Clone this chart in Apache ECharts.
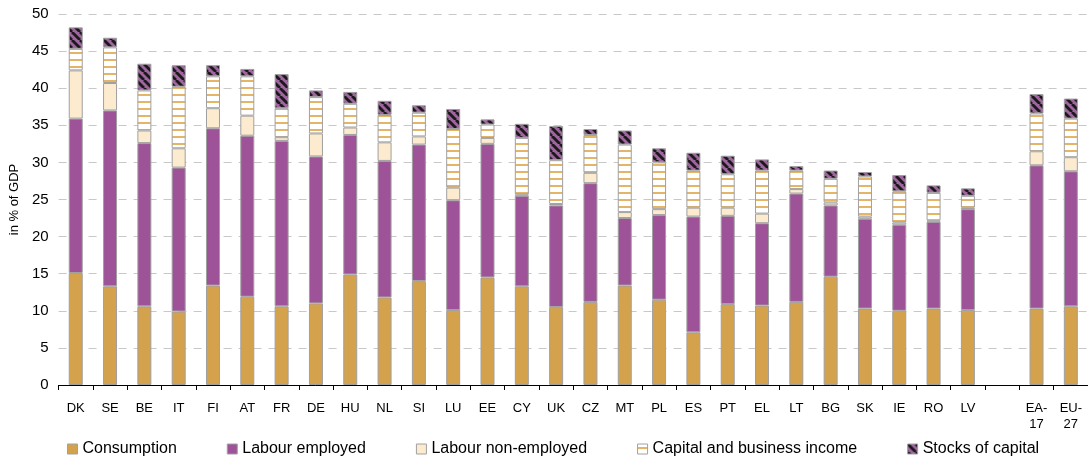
<!DOCTYPE html>
<html>
<head>
<meta charset="utf-8">
<script src="https://cdn.jsdelivr.net/npm/echarts@6/dist/echarts.min.js"></script>
<style>
html,body{margin:0;padding:0;background:#fff;}
#chart{width:1088px;height:461px;}
</style>
</head>
<body>
<div id="chart"></div>
<script>
const categories = ['DK','SE','BE','IT','FI','AT','FR','DE','HU','NL','SI','LU','EE','CY','UK','CZ','MT','PL','ES','PT','EL','LT','BG','SK','IE','RO','LV','','EA-\n17','EU-\n27'];
const consumption =       [15.1,13.3,10.6, 9.9,13.4,11.9,10.6,11.0,14.9,11.8,14.0,10.1,14.5,13.3,10.5,11.2,13.4,11.5, 7.1,10.9,10.7,11.2,14.6,10.3,10.0,10.3,10.1,null,10.3,10.6];
const labourEmployed =    [20.8,23.7,22.0,19.4,21.2,21.7,22.3,19.8,18.8,18.4,18.4,14.8,18.0,12.2,13.7,16.0, 9.1,11.4,15.6,11.9,11.1,14.6, 9.6,12.1,11.6,11.7,13.6,null,19.3,18.2];
const labourNonEmployed = [ 6.5, 3.7, 1.7, 2.6, 2.7, 2.7, 0.5, 3.1, 1.0, 2.5, 1.1, 1.7, 0.8, 0.2, 0.2, 1.4, 0.8, 0.8, 1.2, 1.1, 1.3, 0.6, 0.4, 0.3, 0.3, 0.2, 0.2,null, 1.9, 1.9];
const capitalIncome =     [ 2.9, 4.8, 5.4, 8.3, 4.3, 5.3, 3.9, 4.9, 3.2, 3.7, 3.2, 7.9, 1.8, 7.6, 5.9, 5.1, 9.1, 6.3, 5.0, 4.5, 5.8, 2.5, 3.2, 5.4, 4.2, 3.7, 1.6,null, 5.1, 5.2];
const stocksCapital =     [ 2.9, 1.3, 3.6, 2.9, 1.5, 1.0, 4.6, 0.9, 1.6, 1.9, 1.0, 2.7, 0.7, 1.9, 4.6, 0.8, 1.9, 1.9, 2.4, 2.5, 1.5, 0.6, 1.1, 0.6, 2.2, 1.0, 1.0,null, 2.6, 2.7];
const seriesNames = ['Consumption','Labour employed','Labour non-employed','Capital and business income','Stocks of capital'];
const yTicks = [0,5,10,15,20,25,30,35,40,45,50];

function stripePattern() {
  const c = document.createElement('canvas');
  c.width = 8; c.height = 7;
  const g = c.getContext('2d');
  g.fillStyle = '#ffffff'; g.fillRect(0,0,8,7);
  g.fillStyle = '#E4B567'; g.fillRect(0,3,8,2);
  return c;
}
function diagPattern() {
  const c = document.createElement('canvas');
  c.width = 8; c.height = 8;
  const g = c.getContext('2d');
  g.fillStyle = '#A064A0'; g.fillRect(0,0,8,8);
  g.strokeStyle = '#1a1a1a'; g.lineWidth = 2.8;
  for (const o of [-8,0,8]) {
    g.beginPath(); g.moveTo(o,0); g.lineTo(o+8,8); g.stroke();
  }
  return c;
}

const fills = [
  '#D4A24C',
  '#9E5298',
  '#FDEBD0',
  {image: stripePattern(), repeat: 'repeat'},
  {image: diagPattern(), repeat: 'repeat'}
];
const datasets = [consumption, labourEmployed, labourNonEmployed, capitalIncome, stocksCapital];

const chart = echarts.init(document.getElementById('chart'), null, {renderer: 'canvas'});
chart.setOption({
  animation: false,
  textStyle: {fontFamily: 'Liberation Sans, Arial, sans-serif'},
  grid: {left: 57, right: -2, top: 14, bottom: 76, containLabel: false},
  legend: {
    top: 436, left: 62,
    icon: 'rect',
    itemWidth: 10, itemHeight: 10, itemGap: 50,
    textStyle: {fontSize: 16, color: '#000', fontFamily: 'Liberation Sans, Arial, sans-serif'},
    data: seriesNames.map((n) => ({name: n, itemStyle: {borderColor: '#A0A0A0', borderWidth: 1}}))
  },
  xAxis: {
    type: 'category',
    data: categories,
    axisLine: {lineStyle: {color: '#000', width: 1}},
    axisTick: {show: true, length: 5, lineStyle: {color: '#000'}},
    axisLabel: {interval: 0, fontSize: 13, color: '#000', margin: 15, lineHeight: 16}
  },
  yAxis: {
    type: 'value', min: yTicks[0], max: yTicks[yTicks.length-1], interval: 5,
    name: 'in % of GDP', nameLocation: 'middle', nameRotate: 90, nameGap: 36,
    nameTextStyle: {fontSize: 13, color: '#000'},
    axisLine: {show: false}, axisTick: {show: false},
    axisLabel: {fontSize: 15, color: '#000', margin: 10},
    splitLine: {lineStyle: {color: '#C8C8C8', type: [8,7], width: 1}}
  },
  series: seriesNames.map((n, i) => ({
    name: n, type: 'bar', stack: 'total',
    barWidth: 14,
    data: datasets[i],
    itemStyle: {color: fills[i], borderColor: '#A0A0A0', borderWidth: 1}
  }))
});
</script>
</body>
</html>
